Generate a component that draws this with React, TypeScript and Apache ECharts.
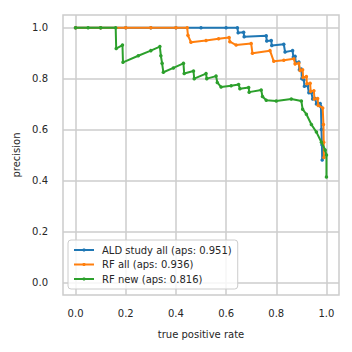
import React, { useEffect, useRef } from "react";
import * as echarts from "echarts";

const seriesNames = [
  "ALD study all (aps: 0.951)",
  "RF all (aps: 0.936)",
  "RF new (aps: 0.816)",
];
const seriesColors = ["#1f77b4", "#ff7f0e", "#2ca02c"];

// [recall, precision]
const aldStudyAll: [number, number][] = [
  [0, 1], [0.1, 1], [0.2, 1], [0.3, 1], [0.4, 1], [0.5, 1], [0.6, 1], [0.645, 1],
  [0.648, 0.98], [0.67, 0.982], [0.672, 0.965], [0.76, 0.968], [0.762, 0.948],
  [0.78, 0.95], [0.782, 0.93], [0.83, 0.935], [0.835, 0.905], [0.865, 0.91],
  [0.868, 0.885], [0.875, 0.888], [0.878, 0.862], [0.89, 0.865], [0.892, 0.835],
  [0.9, 0.838], [0.902, 0.8], [0.91, 0.795], [0.912, 0.77], [0.925, 0.772],
  [0.93, 0.745], [0.94, 0.745], [0.945, 0.72], [0.955, 0.722], [0.96, 0.7],
  [0.975, 0.702], [0.978, 0.69], [0.98, 0.6], [0.982, 0.54], [0.983, 0.48],
];
const rfAll: [number, number][] = [
  [0, 1], [0.1, 1], [0.2, 1], [0.3, 1], [0.4, 1], [0.445, 1],
  [0.448, 0.97], [0.46, 0.943], [0.52, 0.95], [0.57, 0.957], [0.612, 0.962],
  [0.615, 0.945], [0.64, 0.932], [0.7, 0.938], [0.705, 0.9], [0.775, 0.91],
  [0.79, 0.868], [0.83, 0.872], [0.87, 0.878], [0.875, 0.858], [0.89, 0.86],
  [0.895, 0.832], [0.905, 0.835], [0.907, 0.805], [0.92, 0.808], [0.922, 0.78],
  [0.935, 0.782], [0.937, 0.75], [0.95, 0.752], [0.952, 0.72], [0.965, 0.722],
  [0.967, 0.695], [0.985, 0.685], [0.988, 0.62], [0.989, 0.55], [0.99, 0.49],
];
const rfNew: [number, number][] = [
  [0, 1], [0.05, 1], [0.1, 1], [0.16, 1], [0.162, 0.918], [0.187, 0.932],
  [0.189, 0.864], [0.25, 0.89], [0.3, 0.91], [0.336, 0.926], [0.34, 0.89],
  [0.345, 0.86], [0.35, 0.825], [0.39, 0.842], [0.43, 0.86], [0.433, 0.82],
  [0.47, 0.83], [0.473, 0.8], [0.52, 0.82], [0.523, 0.8], [0.56, 0.81],
  [0.565, 0.785], [0.58, 0.767], [0.62, 0.772], [0.65, 0.777], [0.655, 0.76],
  [0.69, 0.765], [0.692, 0.747], [0.74, 0.755], [0.745, 0.73], [0.76, 0.715],
  [0.8, 0.712], [0.86, 0.72], [0.9, 0.712], [0.905, 0.68], [0.92, 0.66],
  [0.94, 0.62], [0.96, 0.59], [0.98, 0.55], [0.995, 0.52], [1.0, 0.5],
  [1.0, 0.414],
];
const seriesData = [aldStudyAll, rfAll, rfNew];

const xTicks = [0, 0.2, 0.4, 0.6, 0.8, 1.0];
const yTicks = [0, 0.2, 0.4, 0.6, 0.8, 1.0];
const xName = "true positive rate";
const yName = "precision";

const FONT = "DejaVu Sans";
const TEXT = "#262626";
const GRIDC = "#cccccc";
const FS = 10;

export default function App() {
  const ref = useRef<HTMLDivElement>(null);
  useEffect(() => {
    if (!ref.current) return;
    const chart = echarts.init(ref.current, null, { renderer: "svg" });
    chart.setOption({
      animation: false,
      backgroundColor: "#ffffff",
      grid: {
        left: 63,
        top: 15,
        width: 276,
        height: 280,
        show: true,
        borderColor: GRIDC,
        borderWidth: 1.5,
        backgroundColor: "transparent",
      },
      xAxis: {
        type: "value",
        min: -0.05,
        max: 1.05,
        name: xName,
        nameLocation: "middle",
        nameGap: 34,
        nameTextStyle: { fontFamily: FONT, fontSize: FS, color: TEXT },
        axisLine: { show: false },
        axisTick: { show: false, customValues: xTicks },
        axisLabel: {
          customValues: xTicks,
          formatter: (v: number) => v.toFixed(1),
          fontFamily: FONT,
          fontSize: FS,
          color: TEXT,
          margin: 13,
        },
        splitLine: { show: true, lineStyle: { color: GRIDC, width: 1.5 } },
      },
      yAxis: {
        type: "value",
        min: -0.05,
        max: 1.05,
        name: yName,
        nameLocation: "middle",
        nameGap: 30,
        nameTextStyle: { fontFamily: FONT, fontSize: FS, color: TEXT },
        axisLine: { show: false },
        axisTick: { show: false, customValues: yTicks },
        axisLabel: {
          customValues: yTicks,
          formatter: (v: number) => v.toFixed(1),
          fontFamily: FONT,
          fontSize: FS,
          color: TEXT,
          margin: 15,
        },
        splitLine: { show: true, lineStyle: { color: GRIDC, width: 1.5 } },
      },
      legend: {
        orient: "vertical",
        left: 68,
        top: 240,
        padding: [4, 6, 4, 5],
        itemGap: 2.5,
        itemWidth: 20,
        itemHeight: 4,
        backgroundColor: "rgba(255,255,255,0.8)",
        borderColor: GRIDC,
        borderWidth: 1,
        borderRadius: 3,
        textStyle: {
          fontFamily: FONT,
          fontSize: FS,
          color: TEXT,
          padding: [0, 0, 0, 3],
          lineHeight: 12,
        },
        data: seriesNames,
      },
      series: seriesNames.map((name, i) => ({
        name,
        type: "line",
        data: seriesData[i],
        color: seriesColors[i],
        symbol: "circle",
        symbolSize: 3.5,
        showSymbol: true,
        showAllSymbol: true,
        lineStyle: { width: 2, color: seriesColors[i] },
        itemStyle: { color: seriesColors[i] },
        z: 2 + i,
      })),
    });
    return () => chart.dispose();
  }, []);
  return (
    <div
      ref={ref}
      style={{ position: "fixed", left: 0, top: 0, width: 352, height: 352 }}
    />
  );
}
